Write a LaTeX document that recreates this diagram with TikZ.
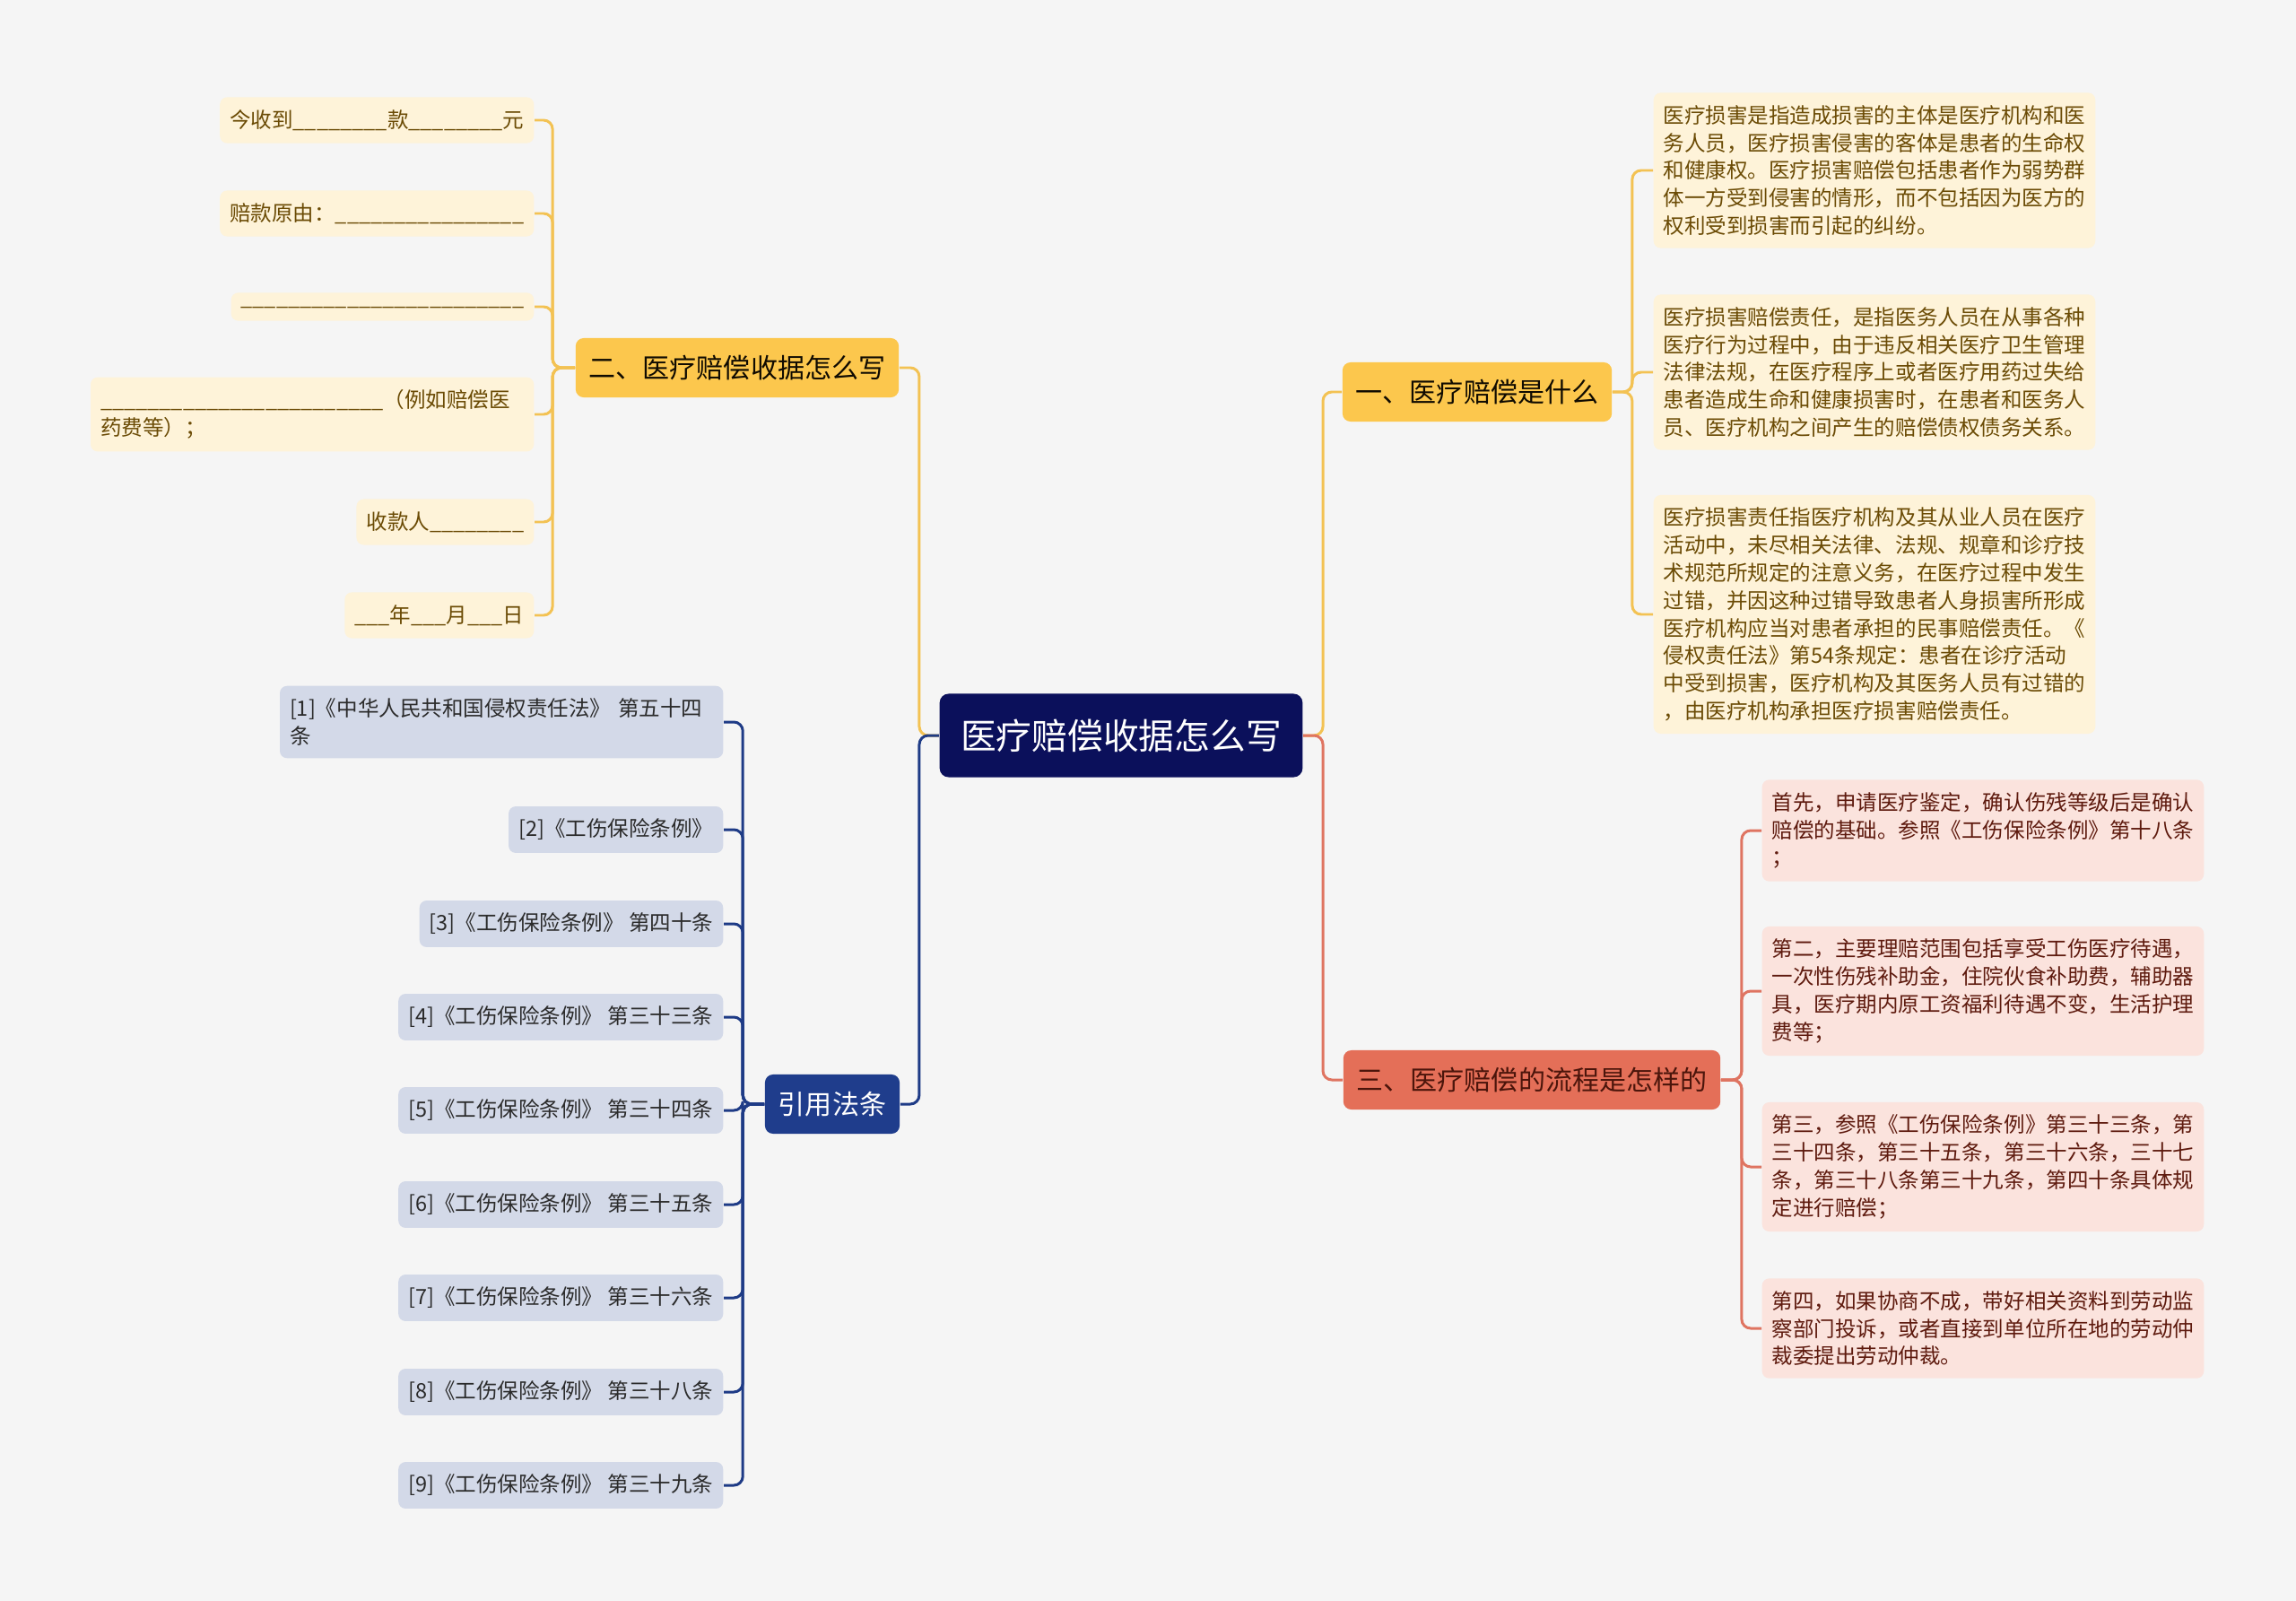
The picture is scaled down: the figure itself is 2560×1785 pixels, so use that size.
\documentclass[tikz,border=0pt]{standalone}
\usepackage{fontspec}
\setmainfont{Noto Sans CJK SC}
\usepackage{tikz}

\definecolor{bgcol}{HTML}{F5F5F5}
\definecolor{rootcol}{HTML}{0B105B}
\definecolor{ylwfill}{HTML}{FCC74D}
\definecolor{ylwline}{HTML}{F3C253}
\definecolor{ylwleaf}{HTML}{FEF3D9}
\definecolor{ylwtext}{HTML}{6B4B05}
\definecolor{redfill}{HTML}{E46F58}
\definecolor{redline}{HTML}{DF7461}
\definecolor{redleaf}{HTML}{FBE3DD}
\definecolor{redtext}{HTML}{5E1A0E}
\definecolor{bluefill}{HTML}{1F3D8C}
\definecolor{blueline}{HTML}{1E3B86}
\definecolor{blueleaf}{HTML}{D3D9E8}
\definecolor{bluetext}{HTML}{2B2B2B}

\ExplSyntaxOn
\cs_new:Npn \ublank #1 { \prg_replicate:nn {#1} { \_ } }
\ExplSyntaxOff

\tikzset{
  root/.style={fill=rootcol, text=white, rounded corners=1mm,
    inner xsep=2.35mm, minimum height=9.3mm,
    font=\fontsize{11.3}{13.5}\selectfont},
  topic/.style={rounded corners=0.9mm, inner xsep=1.5mm, minimum height=6.6mm,
    font=\fontsize{8.54}{10}\selectfont},
  leaf/.style={rounded corners=0.8mm, inner xsep=1.1mm, inner ysep=1.4mm,
    align=left, font=\fontsize{6.69}{8.76}\selectfont},
  wideleaf/.style={text width=4.72cm},
  leafy/.style={leaf, fill=ylwleaf, text=ylwtext},
  leafr/.style={leaf, fill=redleaf, text=redtext},
  leafb/.style={leaf, fill=blueleaf, text=bluetext},
  conn/.style={line width=0.85pt, rounded corners=1mm},
}

\begin{document}
\begin{tikzpicture}[x=0.01cm, y=-0.01cm]
  \fill[bgcol] (0,0) rectangle (2560,1785);
  \useasboundingbox (0,0) rectangle (2560,1785);

  %% centre
  \node[root] (root) at (1250,820) {医疗赔偿收据怎么写};

  %% first level
  \node[topic, fill=ylwfill, text=black!85!ylwtext] (q1) at (1647,437) {一、医疗赔偿是什么};
  \node[topic, fill=ylwfill, text=black!85!ylwtext] (q2) at (822,410) {二、医疗赔偿收据怎么写};
  \node[topic, fill=redfill, text=redtext!80!black] (q3) at (1708,1204) {三、医疗赔偿的流程是怎样的};
  \node[topic, fill=bluefill, text=white] (q4) at (928,1231) {引用法条};

  \draw[conn, ylwline] (root.east) -- ++(22,0) |- (q1.west);
  \draw[conn, ylwline] (root.west) -- ++(-22,0) |- (q2.east);
  \draw[conn, redline] (root.east) -- ++(22,0) |- (q3.west);
  \draw[conn, blueline] (root.west) -- ++(-22,0) |- (q4.east);

  %% what is it
  \node[leafy, anchor=west] (b1) at (1843,190) {医疗损害是指造成损害的主体是医疗机构和医\\务人员，医疗损害侵害的客体是患者的生命权\\和健康权。医疗损害赔偿包括患者作为弱势群\\体一方受到侵害的情形，而不包括因为医方的\\权利受到损害而引起的纠纷。};
  \node[leafy, anchor=west] (b2) at (1843,415) {医疗损害赔偿责任，是指医务人员在从事各种\\医疗行为过程中，由于违反相关医疗卫生管理\\法律法规，在医疗程序上或者医疗用药过失给\\患者造成生命和健康损害时，在患者和医务人\\员、医疗机构之间产生的赔偿债权债务关系。};
  \node[leafy, anchor=west] (b3) at (1843,685) {医疗损害责任指医疗机构及其从业人员在医疗\\活动中，未尽相关法律、法规、规章和诊疗技\\术规范所规定的注意义务，在医疗过程中发生\\过错，并因这种过错导致患者人身损害所形成\\医疗机构应当对患者承担的民事赔偿责任。《\\侵权责任法》第54条规定：患者在诊疗活动\\中受到损害，医疗机构及其医务人员有过错的\\，由医疗机构承担医疗损害赔偿责任。};

  \draw[conn, ylwline] (q1.east) -- ++(22,0) |- (b1.west);
  \draw[conn, ylwline] (q1.east) -- ++(22,0) |- (b2.west);
  \draw[conn, ylwline] (q1.east) -- ++(22,0) |- (b3.west);

  %% receipt form
  \node[leafy, anchor=east] (a1) at (596,134) {今收到\ublank{8}款\ublank{8}元};
  \node[leafy, anchor=east] (a2) at (596,238) {赔款原由：\ublank{16}};
  \node[leafy, anchor=east] (a3) at (596,342) {\ublank{24}};
  \node[leafy, wideleaf, anchor=east] (a4) at (596,462) {\ublank{24}（例如赔偿医\\药费等）；};
  \node[leafy, anchor=east] (a5) at (596,582) {收款人\ublank{8}};
  \node[leafy, anchor=east] (a6) at (596,686) {\ublank{3}年\ublank{3}月\ublank{3}日};

  \draw[conn, ylwline] (q2.west) -- ++(-25,0) |- (a1.east);
  \draw[conn, ylwline] (q2.west) -- ++(-25,0) |- (a2.east);
  \draw[conn, ylwline] (q2.west) -- ++(-25,0) |- (a3.east);
  \draw[conn, ylwline] (q2.west) -- ++(-25,0) |- (a4.east);
  \draw[conn, ylwline] (q2.west) -- ++(-25,0) |- (a5.east);
  \draw[conn, ylwline] (q2.west) -- ++(-25,0) |- (a6.east);

  %% procedure
  \node[leafr, anchor=west] (c1) at (1964,926) {首先，申请医疗鉴定，确认伤残等级后是确认\\赔偿的基础。参照《工伤保险条例》第十八条\\；};
  \node[leafr, anchor=west] (c2) at (1964,1105) {第二，主要理赔范围包括享受工伤医疗待遇，\\一次性伤残补助金，住院伙食补助费，辅助器\\具，医疗期内原工资福利待遇不变，生活护理\\费等；};
  \node[leafr, anchor=west] (c3) at (1964,1301) {第三，参照《工伤保险条例》第三十三条，第\\三十四条，第三十五条，第三十六条，三十七\\条，第三十八条第三十九条，第四十条具体规\\定进行赔偿；};
  \node[leafr, anchor=west] (c4) at (1964,1481) {第四，如果协商不成，带好相关资料到劳动监\\察部门投诉，或者直接到单位所在地的劳动仲\\裁委提出劳动仲裁。};

  \draw[conn, redline] (q3.east) -- ++(23,0) |- (c1.west);
  \draw[conn, redline] (q3.east) -- ++(23,0) |- (c2.west);
  \draw[conn, redline] (q3.east) -- ++(23,0) |- (c3.west);
  \draw[conn, redline] (q3.east) -- ++(23,0) |- (c4.west);

  %% references
  \node[leafb, wideleaf, anchor=east] (d1) at (807,805) {[1]《中华人民共和国侵权责任法》 第五十四\\条};
  \node[leafb, anchor=east] (d2) at (807,925) {[2]《工伤保险条例》};
  \node[leafb, anchor=east] (d3) at (807,1030) {[3]《工伤保险条例》 第四十条};
  \node[leafb, anchor=east] (d4) at (807,1134) {[4]《工伤保险条例》 第三十三条};
  \node[leafb, anchor=east] (d5) at (807,1238) {[5]《工伤保险条例》 第三十四条};
  \node[leafb, anchor=east] (d6) at (807,1343) {[6]《工伤保险条例》 第三十五条};
  \node[leafb, anchor=east] (d7) at (807,1447) {[7]《工伤保险条例》 第三十六条};
  \node[leafb, anchor=east] (d8) at (807,1552) {[8]《工伤保险条例》 第三十八条};
  \node[leafb, anchor=east] (d9) at (807,1656) {[9]《工伤保险条例》 第三十九条};

  \draw[conn, blueline] (q4.west) -- ++(-24,0) |- (d1.east);
  \draw[conn, blueline] (q4.west) -- ++(-24,0) |- (d2.east);
  \draw[conn, blueline] (q4.west) -- ++(-24,0) |- (d3.east);
  \draw[conn, blueline] (q4.west) -- ++(-24,0) |- (d4.east);
  \draw[conn, blueline] (q4.west) -- ++(-24,0) |- (d5.east);
  \draw[conn, blueline] (q4.west) -- ++(-24,0) |- (d6.east);
  \draw[conn, blueline] (q4.west) -- ++(-24,0) |- (d7.east);
  \draw[conn, blueline] (q4.west) -- ++(-24,0) |- (d8.east);
  \draw[conn, blueline] (q4.west) -- ++(-24,0) |- (d9.east);
\end{tikzpicture}
\end{document}
